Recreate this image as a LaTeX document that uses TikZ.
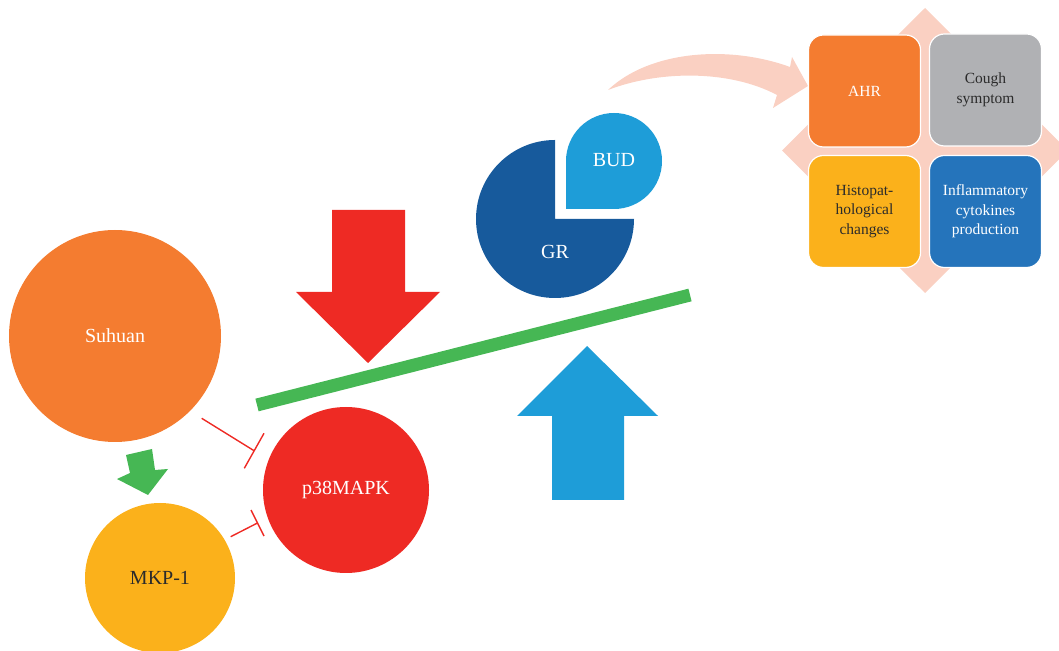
\documentclass[tikz,border=0pt]{standalone}
\usepackage{fontspec}
\setmainfont{Liberation Serif}
\definecolor{corange}{HTML}{F47C30}
\definecolor{cyellow}{HTML}{FBB11B}
\definecolor{cred}{HTML}{EE2A24}
\definecolor{cgreen}{HTML}{46B754}
\definecolor{clblue}{HTML}{1E9DD8}
\definecolor{cdblue}{HTML}{175A9C}
\definecolor{cmblue}{HTML}{2574BB}
\definecolor{cgray}{HTML}{B0B1B4}
\definecolor{csalmon}{HTML}{FAD0C2}
\definecolor{ctext}{HTML}{2B2B2B}
\tikzset{
  bigcirc/.style={circle, inner sep=0pt, font=\fontsize{20}{24}\selectfont},
  qbox/.style={rounded corners=15pt, draw=white, line width=1.2pt, minimum width=112pt, minimum height=112pt, inner sep=2pt, align=center, font=\fontsize{15.5}{19.5}\selectfont},
  inhib/.style={draw=cred, line width=1.4pt},
}
\begin{document}
\begin{tikzpicture}[x=1pt,y=1pt]
\useasboundingbox (0,0) rectangle (1059,650);
\clip (0,0) rectangle (1059,650);
% diamond background
\fill[csalmon] (925,642) -- (1068,499.5) -- (925,357) -- (782,499.5) -- cycle;
% curved arrow
\fill[csalmon] (608,560) .. controls (650,600) and (730,605) .. (790,583) -- (792,593) -- (808,564) -- (773,542) -- (777,555) .. controls (730,580) and (660,580) .. (608,560) -- cycle;
% quadrant boxes
\node[qbox, fill=corange, text=white] (ahr) at (864.5,559) {AHR};
\node[qbox, fill=cgray, text=ctext] (cough) at (985.5,560) {Cough\\symptom};
\node[qbox, fill=cyellow, text=ctext] (histo) at (864.5,438.5) {Histopat-\\hological\\changes};
\node[qbox, fill=cmblue, text=white] (infl) at (985.5,438.5) {Inflammatory\\cytokines\\production};
% GR pie
\fill[cdblue] (555,431) -- (634,431) arc[start angle=0, end angle=-270, radius=79pt] -- cycle;
\node[text=white, font=\fontsize{20}{24}\selectfont] (gr) at (555,398) {GR};
% BUD drop
\fill[clblue] (566,441) [rounded corners=48pt] -- (566,537) -- (662,537) -- (662,441) [sharp corners] -- cycle;
\node[text=white, font=\fontsize{20}{24}\selectfont] (bud) at (614,490) {BUD};
% big red arrow
\fill[cred] (332,440) -- (405,440) -- (405,358) -- (440,358) -- (368,287) -- (296,358) -- (332,358) -- cycle;
% big blue arrow
\fill[clblue] (552,150) -- (624,150) -- (624,234) -- (658,234) -- (587,304) -- (517,234) -- (552,234) -- cycle;
% green bar
\coordinate (g1) at (257,245);
\coordinate (g2) at (690,355);
\draw[cgreen, line width=13pt] (g1) -- (g2);
% circles
\node[bigcirc, fill=corange, minimum size=212pt, text=white] (suhuan) at (115,314) {Suhuan};
\node[bigcirc, fill=cyellow, minimum size=150pt, text=ctext] (mkp) at (160,72) {MKP-1};
\node[bigcirc, fill=cred, minimum size=166pt, text=white] (p38) at (346,160) {p38MAPK};
% small green arrow
\fill[cgreen] (126,195) -- (152,201) -- (155,180) -- (168,181) -- (148,155) -- (117,171) -- (130,177) -- cycle;
% inhibition lines
\coordinate (i1s) at (201.7,231.7);
\coordinate (i1e) at (254.2,199.2);
\coordinate (b1a) at (264,216.7);
\coordinate (b1b) at (244.3,181.7);
\coordinate (i2s) at (230.7,113.3);
\coordinate (i2e) at (257.5,127);
\coordinate (b2a) at (251,140);
\coordinate (b2b) at (264,114);
\draw[inhib] (i1s) -- (i1e);
\draw[inhib] (b1a) -- (b1b);
\draw[inhib] (i2s) -- (i2e);
\draw[inhib] (b2a) -- (b2b);
\end{tikzpicture}
\end{document}
